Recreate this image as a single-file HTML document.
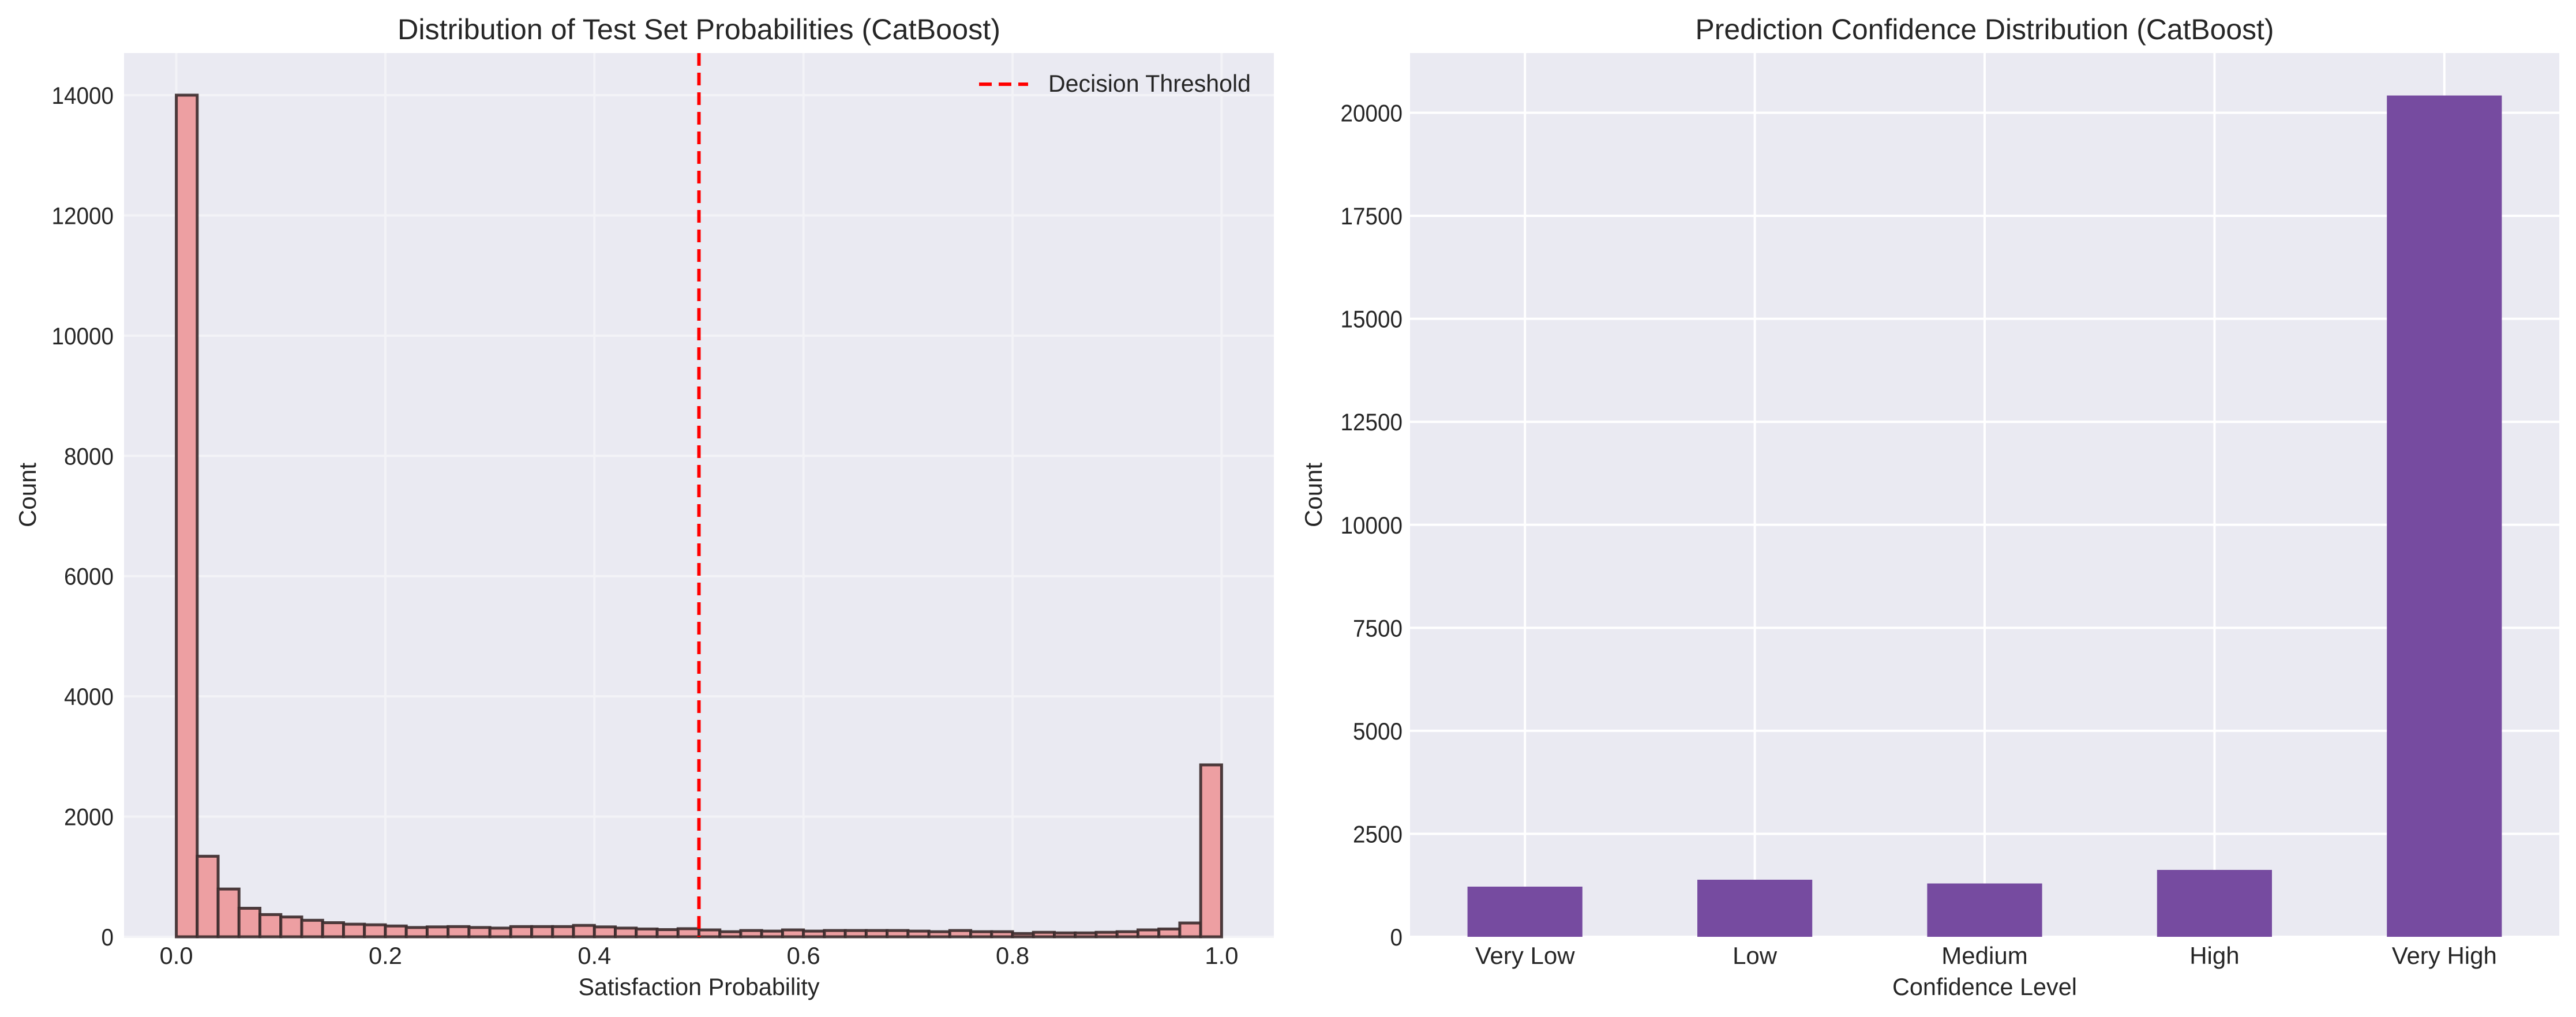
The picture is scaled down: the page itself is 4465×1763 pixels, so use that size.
<!DOCTYPE html>
<html><head><meta charset="utf-8"><style>
html,body{margin:0;padding:0;background:#fff}
svg{display:block;font-family:"Liberation Sans",Arial,sans-serif;fill:#262626}
</style></head><body>
<svg id="fig" width="4465" height="1763" viewBox="0 0 4465 1763">
<g id="left"></g>
<g id="right"></g>
</svg>
<script>
const histCounts = [14000,1340,795,475,370,330,275,235,210,200,180,155,165,170,155,145,170,170,170,190,165,145,130,120,135,
115,85,105,95,115,95,105,105,105,105,95,85,105,85,85,55,75,65,65,75,85,115,130,230,2860];
const histYTicks = [0,2000,4000,6000,8000,10000,12000,14000];
const histXTicks = [0.0,0.2,0.4,0.6,0.8,1.0];
const threshold = 0.5;
const confCategories = ["Very Low","Low","Medium","High","Very High"];
const confCounts = [1218,1386,1295,1624,20420];
const confYTicks = [0,2500,5000,7500,10000,12500,15000,17500,20000];

const NS="http://www.w3.org/2000/svg";
function mk(parent,tag,attrs,text){const e=document.createElementNS(NS,tag);for(const k in attrs)e.setAttribute(k,attrs[k]);if(text!==undefined)e.textContent=text;parent.appendChild(e);return e;}

// ---------- Left histogram ----------
const L=document.getElementById('left');
const lx0=215,lx1=2208,ly0=92,ly1=1624;
const lxMin=-0.05,lxMax=1.05,lyMax=14700;
const sxL=v=>lx0+(v-lxMin)/(lxMax-lxMin)*(lx1-lx0);
const syL=v=>ly1-v/lyMax*(ly1-ly0);
let r=mk(L,'rect',{x:lx0,y:ly0,width:lx1-lx0,height:ly1-ly0,fill:'#eaeaf2'});


histXTicks.forEach(t=>{
  let g=mk(L,'line',{x1:sxL(t),x2:sxL(t),y1:ly0,y2:ly1,stroke:'#f3f3f7','stroke-width':4});
  
  
  let tx=mk(L,'text',{x:sxL(t),y:1671,'font-size':42,'text-anchor':'middle',textLength:58,lengthAdjust:'spacingAndGlyphs'},t.toFixed(1));
  
  
});
histYTicks.forEach(t=>{
  let g=mk(L,'line',{x1:lx0,x2:lx1,y1:syL(t),y2:syL(t),stroke:'#f3f3f7','stroke-width':4});
  
  
  const s=String(t);
  let tx=mk(L,'text',{x:197,y:syL(t)+15,'font-size':42,'text-anchor':'end',textLength:s.length*21.5,lengthAdjust:'spacingAndGlyphs'},s);
  
  
});
const bw=1/histCounts.length;
histCounts.forEach((c,i)=>{
  const xa=sxL(i*bw),xb=sxL((i+1)*bw);
  let b=mk(L,'rect',{x:xa,y:syL(c),width:xb-xa,height:ly1-syL(c),fill:'#ed9fa2',stroke:'#3a2a2b','stroke-width':5,'stroke-opacity':0.9});
  
  
});
let th=mk(L,'line',{x1:sxL(threshold),x2:sxL(threshold),y1:ly0,y2:ly1,stroke:'#ff0000','stroke-width':6,'stroke-dasharray':'22 12'});


let lg=mk(L,'line',{x1:1697,x2:1782,y1:146,y2:146,stroke:'#ff0000','stroke-width':6,'stroke-dasharray':'22 12'});


let lt=mk(L,'text',{x:1817,y:159,'font-size':42,textLength:351,lengthAdjust:'spacingAndGlyphs'},'Decision Threshold');


let t1=mk(L,'text',{x:(lx0+lx1)/2,y:68,'font-size':50,'text-anchor':'middle',textLength:1045,lengthAdjust:'spacingAndGlyphs'},'Distribution of Test Set Probabilities (CatBoost)');


let xl=mk(L,'text',{x:(lx0+lx1)/2,y:1725,'font-size':42,'text-anchor':'middle',textLength:418,lengthAdjust:'spacingAndGlyphs'},'Satisfaction Probability');


let yl=mk(L,'text',{x:0,y:0,'font-size':42,'text-anchor':'middle',transform:'translate(62,858) rotate(-90)'},'Count');



// ---------- Right bar chart ----------
const R=document.getElementById('right');
const rx0=2444,rx1=4436,ry0=92,ry1=1624;
const rxMin=-0.5,rxMax=4.5,ryMax=21450;
const sxR=v=>rx0+(v-rxMin)/(rxMax-rxMin)*(rx1-rx0);
const syR=v=>ry1-v/ryMax*(ry1-ry0);
let r2=mk(R,'rect',{x:rx0,y:ry0,width:rx1-rx0,height:ry1-ry0,fill:'#eaeaf2'});


confYTicks.forEach(t=>{
  let g=mk(R,'line',{x1:rx0,x2:rx1,y1:syR(t),y2:syR(t),stroke:'#ffffff','stroke-width':4});
  
  
  const s=String(t);
  let tx=mk(R,'text',{x:2431,y:syR(t)+15,'font-size':42,'text-anchor':'end',textLength:s.length*21.5,lengthAdjust:'spacingAndGlyphs'},s);
  
  
});
confCategories.forEach((c,i)=>{
  let g=mk(R,'line',{x1:sxR(i),x2:sxR(i),y1:ry0,y2:ry1,stroke:'#ffffff','stroke-width':4});
  
  
});
confCategories.forEach((c,i)=>{
  const xa=sxR(i-0.25),xb=sxR(i+0.25);
  let b=mk(R,'rect',{x:xa,y:syR(confCounts[i]),width:xb-xa,height:ry1-syR(confCounts[i]),fill:'#764ba0'});
  
  
  let tx=mk(R,'text',{x:sxR(i),y:1671,'font-size':42,'text-anchor':'middle'},c);
  
  
});
let t2=mk(R,'text',{x:(rx0+rx1)/2,y:68,'font-size':50,'text-anchor':'middle',textLength:1003,lengthAdjust:'spacingAndGlyphs'},'Prediction Confidence Distribution (CatBoost)');


let xl2=mk(R,'text',{x:(rx0+rx1)/2,y:1725,'font-size':42,'text-anchor':'middle',textLength:320,lengthAdjust:'spacingAndGlyphs'},'Confidence Level');


let yl2=mk(R,'text',{x:0,y:0,'font-size':42,'text-anchor':'middle',transform:'translate(2291,858) rotate(-90)'},'Count');


</script>
</body></html>
